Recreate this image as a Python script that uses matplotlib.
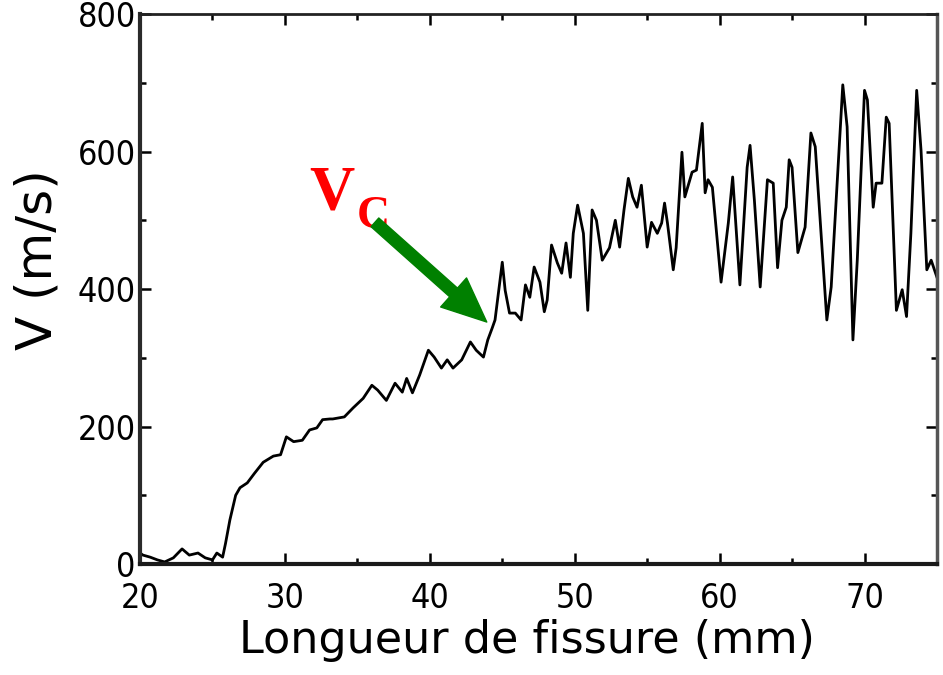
import matplotlib
matplotlib.use("Agg")
import matplotlib.pyplot as plt
from matplotlib.ticker import MultipleLocator
from matplotlib import font_manager

# Crack length (mm) and crack velocity (m/s)
crack_length = [
    20.0, 20.2, 20.7, 21.2, 21.7, 22.3, 22.9, 23.4, 24.0, 24.5, 25.0, 25.3, 25.7,
    25.9, 26.2, 26.6, 26.9, 27.4, 27.9, 28.5, 29.2, 29.7, 30.1, 30.6, 31.2, 31.7,
    32.2, 32.6, 33.1, 33.3, 34.1, 34.7, 35.4, 36.0, 36.4, 37.0, 37.6, 38.1, 38.4,
    38.8, 39.3, 39.9, 40.3, 40.8, 41.2, 41.6, 42.2, 42.8, 43.2, 43.7, 44.0, 44.3,
    44.5, 45.0, 45.2, 45.5, 45.9, 46.3, 46.6, 46.9, 47.2, 47.6, 47.9, 48.1, 48.4,
    48.8, 49.1, 49.4, 49.7, 49.9, 50.2, 50.6, 50.9, 51.2, 51.5, 51.9, 52.4, 52.8,
    53.1, 53.4, 53.7, 54.0, 54.3, 54.6, 55.0, 55.3, 55.7, 56.0, 56.2, 56.4, 56.8,
    57.0, 57.4, 57.6, 58.1, 58.4, 58.8, 59.0, 59.2, 59.5, 60.1, 60.6, 60.9, 61.4,
    61.9, 62.1, 62.4, 62.8, 63.3, 63.7, 64.0, 64.3, 64.6, 64.8, 65.0, 65.4, 65.9,
    66.3, 66.6, 67.4, 67.7, 68.5, 68.8, 69.2, 69.5, 70.0, 70.2, 70.6, 70.8, 71.2,
    71.5, 71.7, 72.2, 72.6, 72.9, 73.2, 73.6, 73.9, 74.3, 74.6, 75.0,
]
velocity = [
    16, 13, 10, 6, 3, 9, 22, 13, 16, 9, 6, 16, 10,
    30, 64, 100, 111, 118, 132, 148, 157, 159, 185, 178, 180, 195,
    198, 210, 211, 211, 214, 227, 241, 260, 253, 238, 263, 250, 270,
    249, 275, 311, 301, 285, 297, 285, 297, 323, 311, 301, 326, 343,
    355, 439, 398, 365, 365, 355, 406, 388, 432, 410, 367, 384, 464,
    438, 423, 467, 417, 481, 522, 481, 369, 515, 500, 442, 460, 500,
    461, 515, 561, 534, 519, 551, 461, 497, 481, 496, 525, 496, 428,
    460, 599, 534, 570, 573, 641, 540, 559, 548, 410, 496, 563, 406,
    577, 609, 529, 403, 559, 554, 431, 500, 519, 588, 577, 453, 490,
    627, 607, 355, 403, 697, 636, 326, 442, 689, 675, 519, 554, 554,
    650, 641, 369, 399, 360, 481, 689, 602, 428, 442, 417,
]

x_ticks = [20, 30, 40, 50, 60, 70]
y_ticks = [0, 200, 400, 600, 800]
x_label = "Longueur de fissure (mm)"
y_label = "V (m/s)"

installed = {f.name for f in font_manager.fontManager.ttflist}
if "Liberation Sans Narrow" in installed:
    tick_props = dict(family=["Liberation Sans Narrow"], size=27)
else:
    tick_props = dict(family=["DejaVu Sans"], stretch="condensed", size=24.5)
label_font = ["DejaVu Sans"]

fig = plt.figure(figsize=(9.43, 6.75), dpi=100)
ax = fig.add_axes([0.1485, 0.1644, 0.8451, 0.8148])

ax.plot(crack_length, velocity, color="black", linewidth=2.0)

ax.set_xlim(20, 75)
ax.set_ylim(0, 800)
ax.set_xticks(x_ticks)
ax.set_yticks(y_ticks)
ax.xaxis.set_minor_locator(MultipleLocator(5))
ax.yaxis.set_minor_locator(MultipleLocator(100))
ax.tick_params(which="both", direction="in", top=True, right=True,
               color="black", width=1.8)
ax.tick_params(which="major", length=8)
ax.tick_params(which="minor", length=4)
ax.tick_params(axis="x", pad=13)
ax.tick_params(axis="y", pad=3)

for lab in ax.get_xticklabels() + ax.get_yticklabels():
    lab.set_family(tick_props["family"])
    lab.set_fontsize(tick_props["size"])
    if "stretch" in tick_props:
        lab.set_stretch(tick_props["stretch"])

ax.spines["left"].set_linewidth(3.0)
ax.spines["left"].set_color("#2a2a2a")
ax.spines["bottom"].set_linewidth(3.0)
ax.spines["bottom"].set_color("#1a1a1a")
ax.spines["top"].set_linewidth(2.0)
ax.spines["top"].set_color("#222222")
ax.spines["right"].set_linewidth(2.5)
ax.spines["right"].set_color("#555555")

ax.set_xlabel(x_label, family=label_font, fontsize=32)
ax.set_ylabel(y_label, family=label_font, fontsize=36)
ax.xaxis.set_label_coords(0.486, -0.100)
ax.yaxis.set_label_coords(-0.098, 0.553)

# Critical velocity marker
ax.text(33.24, 515, "V", color="red", family=["Liberation Serif", "DejaVu Serif"],
        fontweight="bold", fontsize=45, ha="center", va="baseline")
ax.text(36.1, 489, "C", color="red", family=["Liberation Serif", "DejaVu Serif"],
        fontweight="bold", fontsize=33, ha="center", va="baseline")
ax.annotate("", xy=(43.93, 352), xytext=(36.21, 497),
            arrowprops=dict(arrowstyle="simple,head_length=1.6,head_width=1.4,tail_width=0.42",
                            fc="green", ec="green", mutation_scale=20,
                            shrinkA=0, shrinkB=0))

fig.savefig("out.png", dpi=100)
